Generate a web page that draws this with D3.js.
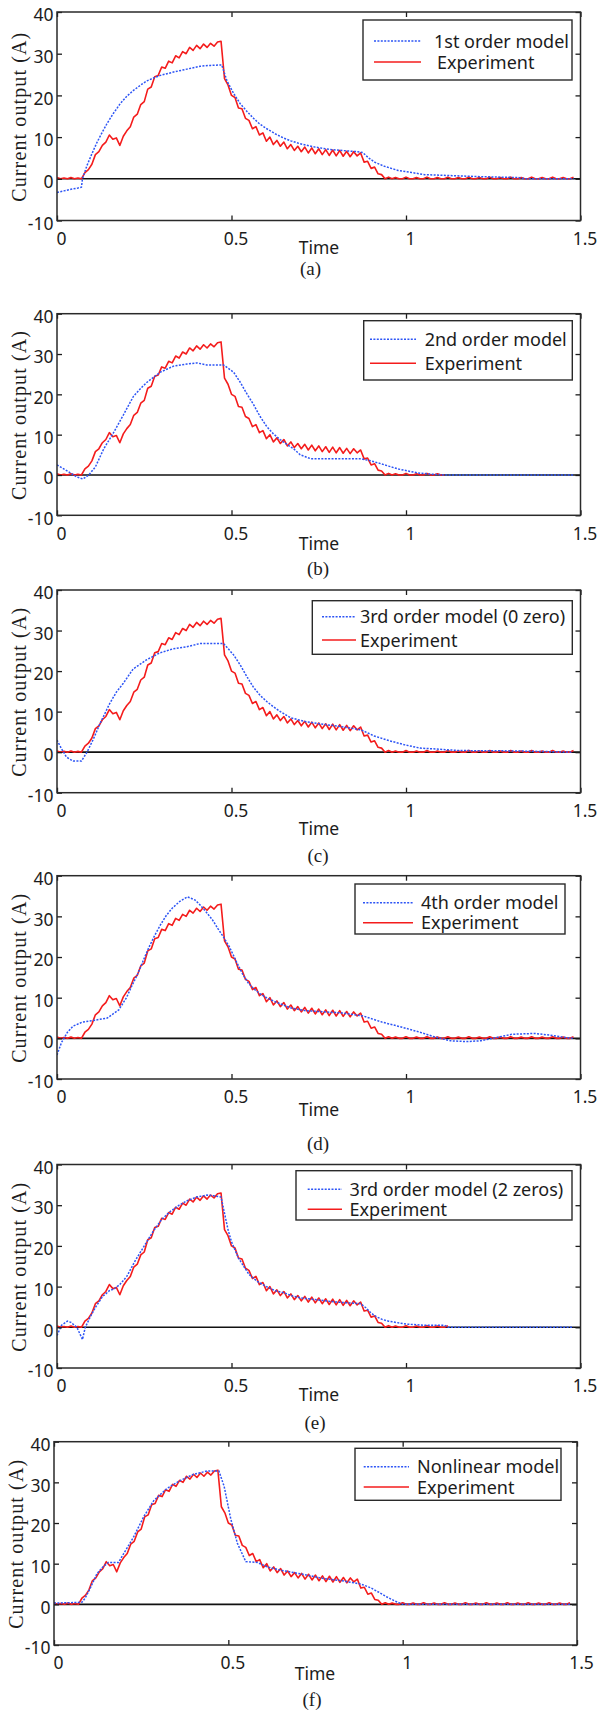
<!DOCTYPE html>
<html>
<head>
<meta charset="utf-8">
<script src="https://cdn.jsdelivr.net/npm/d3@7"></script>
<style>
  body { margin: 0; background: #fff; }
  svg { display: block; }
</style>
</head>
<body>
<svg id="chart"></svg>
<script>
width = 597;
height = 1711;

// measured current, one sample every 0.01 s (same run in all six panels)
const expStep = 0.01;
const experiment = [
  0.3, 0, 0.2, 0, 0.3, 0, 0.2, 0,
  1.5, 2.2, 3.5, 5.8, 6.5, 8.0, 8.8, 10.5, 9.5, 9.8, 8.0,
  10.2, 11.5, 12.5, 14.8, 15.5, 17.8, 18.5, 21.5, 22.0, 24.5, 24.8, 26.8, 26.5, 28.2, 27.8,
  29.5, 29.0, 30.5, 30.0, 31.5, 30.8, 32.0, 31.2, 32.3, 31.5, 32.5, 31.8, 32.8, 33.0,
  24.0, 22.5, 20.0, 19.5, 17.0, 16.8, 14.5, 14.0, 12.0, 12.5, 10.5, 11.0, 9.0, 10.0,
  8.2, 9.2, 7.8, 8.8, 7.2, 8.2, 6.8, 7.8, 6.5, 7.6, 6.2, 7.4, 6.0, 7.2, 5.8, 7.0,
  5.6, 6.9, 5.5, 6.8, 5.4, 6.6, 5.3, 6.5, 5.5, 6.2,
  4.0, 4.2, 2.5, 2.8, 1.2, 1.0,
  0, 0.4, 0, 0.3,
  0, 0, 0.4, 0, 0, 0.3, 0, 0, 0.4, 0, 0, 0.3, 0, 0, 0.4, 0, 0, 0.3,
  0, 0, 0.4, 0, 0, 0.3, 0, 0, 0.4, 0, 0, 0.3, 0, 0, 0.4, 0, 0, 0.3,
  0, 0, 0.4, 0, 0, 0.3, 0, 0, 0.4, 0, 0, 0.3, 0, 0, 0.4
];
// where the experiment trace stops in each panel
const expEnd = [1.48, 1.11, 1.48, 1.48, 1.12, 1.48];

// model outputs, [time, current]
const model1 = [[0,-3.3],[0.02,-2.9],[0.04,-2.5],[0.06,-2.2],[0.07,-2.0],[0.073,0],[0.086,3.2],[0.1,6],[0.115,8.8],[0.13,11.2],[0.143,13.2],[0.16,15.5],[0.181,18],[0.2,19.8],[0.219,21.2],[0.24,22.5],[0.258,23.5],[0.28,24.3],[0.296,24.8],[0.334,25.6],[0.372,26.3],[0.41,27],[0.44,27.2],[0.472,27.3],[0.487,23.5],[0.506,20.5],[0.525,18],[0.545,16.1],[0.563,14.5],[0.58,13.2],[0.601,12],[0.625,10.8],[0.649,9.8],[0.67,9.1],[0.697,8.4],[0.74,7.6],[0.786,7],[0.83,6.7],[0.862,6.5],[0.876,6.3],[0.893,5],[0.91,4],[0.938,3],[0.977,2],[1.016,1.5],[1.054,1.0],[1.121,0.8],[1.217,0.5],[1.322,0.3],[1.341,0],[1.48,0]];
const model2 = [[0,2.5],[0.029,1],[0.057,-0.5],[0.074,-1],[0.091,0],[0.11,2],[0.134,6.5],[0.162,10.5],[0.191,15],[0.219,19.5],[0.24,21.5],[0.258,23],[0.296,25.5],[0.334,27],[0.372,27.5],[0.4,27.8],[0.429,27.3],[0.477,27.3],[0.506,25.5],[0.525,23],[0.545,20],[0.563,17.5],[0.582,14.5],[0.601,12],[0.62,10.2],[0.639,8.8],[0.66,7.5],[0.678,6.5],[0.697,5],[0.728,4],[0.871,4],[0.9,3.5],[0.92,3],[0.95,2.2],[0.977,1.5],[1.005,1],[1.035,0.5],[1.073,0.2],[1.11,0],[1.48,0]];
const model3 = [[0,3],[0.012,1],[0.027,-1.2],[0.046,-2.2],[0.07,-2.2],[0.086,0],[0.103,3],[0.123,7],[0.151,12],[0.17,14.8],[0.19,17],[0.218,20.5],[0.257,22.8],[0.295,24.5],[0.333,25.5],[0.372,26],[0.41,26.8],[0.477,26.8],[0.506,24],[0.525,21.5],[0.545,18.5],[0.563,16],[0.582,14],[0.601,12.5],[0.62,11.2],[0.64,10],[0.669,8.5],[0.713,7.5],[0.77,6.8],[0.822,6.2],[0.871,5.5],[0.909,4],[0.953,2.8],[0.997,1.8],[1.04,1],[1.084,0.8],[1.15,0.4],[1.314,0.3],[1.478,0]];
const model4 = [[0,-4.1],[0.013,-1],[0.03,1.5],[0.046,3],[0.073,4],[0.111,4.5],[0.144,5],[0.177,7],[0.199,10],[0.215,13],[0.232,16],[0.248,19.3],[0.264,22.5],[0.28,25.3],[0.297,28],[0.313,30.2],[0.33,32],[0.352,33.7],[0.374,34.8],[0.396,34],[0.41,32.8],[0.428,31],[0.445,29.2],[0.461,27],[0.478,24.8],[0.494,22.5],[0.516,18.5],[0.532,15.8],[0.549,13.5],[0.565,12.1],[0.581,11],[0.6,10],[0.625,9],[0.669,7.5],[0.713,6.8],[0.77,6.5],[0.822,6.2],[0.877,5.5],[0.931,4],[0.986,2.8],[1.04,1.5],[1.084,0.3],[1.128,-0.6],[1.172,-0.8],[1.215,-0.6],[1.259,0.2],[1.303,1],[1.368,1.2],[1.412,0.8],[1.456,0.2],[1.478,0]];
const model5 = [[0,-2],[0.013,0.5],[0.03,1.5],[0.04,1.2],[0.057,0],[0.065,-1.5],[0.073,-3],[0.081,0],[0.095,2.5],[0.111,5],[0.13,7.5],[0.15,9],[0.165,9.5],[0.18,10.5],[0.2,12.5],[0.225,16.5],[0.25,20],[0.275,23.5],[0.3,26.5],[0.325,28.5],[0.35,30],[0.375,31.2],[0.4,32],[0.43,32.5],[0.45,32.3],[0.47,32],[0.475,30],[0.49,24],[0.5,21],[0.52,17],[0.535,15],[0.55,13],[0.575,11.2],[0.6,10],[0.625,9],[0.65,8.5],[0.675,7.7],[0.7,7.2],[0.75,6.7],[0.8,6.2],[0.87,5.8],[0.885,4.8],[0.9,3.5],[0.915,2.6],[0.93,2],[0.95,1.5],[1.0,0.8],[1.05,0.5],[1.11,0.5],[1.12,0],[1.48,0]];
const model6 = [[0,0.3],[0.04,0.4],[0.08,0.5],[0.089,1.5],[0.104,4],[0.123,7.5],[0.14,9.2],[0.156,10.3],[0.185,10.3],[0.2,12.5],[0.228,16.5],[0.257,21.5],[0.286,25.5],[0.324,28.5],[0.363,30.5],[0.401,32],[0.44,32.8],[0.473,32.8],[0.488,29],[0.507,21],[0.526,15],[0.55,10.5],[0.583,10.3],[0.612,9.2],[0.65,8.4],[0.708,7.5],[0.77,6.4],[0.826,5.8],[0.88,5],[0.91,4],[0.935,2.8],[0.955,1.8],[0.978,0.8],[1.0,0],[1.48,0]];

const models = [model1, model2, model3, model4, model5, model6];
const modelNames = ['1st order model', '2nd order model', '3rd order model (0 zero)',
  '4th order model', '3rd order model (2 zeros)', 'Nonlinear model'];
const captions = ['(a)', '(b)', '(c)', '(d)', '(e)', '(f)'];
const xTicks = [0, 0.5, 1, 1.5];
const yTicks = [-10, 0, 10, 20, 30, 40];
const xDomain = [0, 1.5];
const yDomain = [-10, 40];

// page layout of the six stacked panels
const panels = [
  { top: 12, bottom: 220.5, left: 57, right: 580.5, labX: 26,
    lg: { x: 363, y: 20, w: 209, h: 60, lx0: 374, lx1: 421, ly1: 41, ly2: 62, tx1: 434, tx2: 437 },
    timeX: 319, timeY: 254, capX: 310.5, capY: 275 },
  { top: 313.7, bottom: 515.3, left: 57, right: 580.5, labX: 26,
    lg: { x: 363.7, y: 320.7, w: 208.6, h: 59.3, lx0: 370, lx1: 416, ly1: 339.3, ly2: 363.3, tx1: 424.7, tx2: 424.7 },
    timeX: 319, timeY: 550, capX: 318, capY: 575 },
  { top: 590, bottom: 792.7, left: 57, right: 580.5, labX: 26,
    lg: { x: 312.3, y: 600.7, w: 260, h: 53.6, lx0: 322, lx1: 356, ly1: 616.7, ly2: 640, tx1: 360, tx2: 360 },
    timeX: 319, timeY: 835, capX: 318, capY: 862 },
  { top: 875.7, bottom: 1079, left: 57, right: 580.5, labX: 26,
    lg: { x: 355, y: 884, w: 210, h: 50, lx0: 363, lx1: 413, ly1: 902.7, ly2: 922.7, tx1: 421, tx2: 421 },
    timeX: 319, timeY: 1116, capX: 318, capY: 1150 },
  { top: 1164.5, bottom: 1368, left: 57, right: 580.5, labX: 26,
    lg: { x: 296, y: 1170.7, w: 276, h: 49.3, lx0: 307.7, lx1: 342, ly1: 1189.3, ly2: 1209.3, tx1: 349.6, tx2: 349.6 },
    timeX: 319, timeY: 1401, capX: 315, capY: 1429 },
  { top: 1441.7, bottom: 1645, left: 54, right: 577, labX: 23,
    lg: { x: 355, y: 1448.3, w: 206, h: 52, lx0: 363.7, lx1: 409, ly1: 1466.7, ly2: 1487, tx1: 417, tx2: 417 },
    timeX: 315, timeY: 1680, capX: 312, capY: 1706 }
];

const blue = '#2d55f5';
const red = '#f41c1c';
const ink = '#1c1c1c';
const sans = "'Noto Sans', 'Open Sans', sans-serif";
const serif = "'Liberation Serif', 'Times New Roman', serif";

const svg = d3.select('#chart').attr('width', width).attr('height', height)
  .attr('viewBox', [0, 0, width, height]);

const expPoints = experiment.map((v, i) => [i * expStep, v]);

panels.forEach((p, k) => {
  const x = d3.scaleLinear().domain(xDomain).range([p.left, p.right]);
  const y = d3.scaleLinear().domain(yDomain).range([p.bottom, p.top]);
  const g = svg.append('g');

  const clipId = 'clip' + k;
  g.append('clipPath').attr('id', clipId)
    .append('rect')
    .attr('x', p.left).attr('y', p.top)
    .attr('width', p.right - p.left).attr('height', p.bottom - p.top);

  // zero line
  g.append('line')
    .attr('x1', x(0)).attr('x2', x(1.5))
    .attr('y1', y(0)).attr('y2', y(0))
    .attr('stroke', '#111').attr('stroke-width', 1.6);

  const line = d3.line().x(d => x(d[0])).y(d => y(d[1]));
  const plot = g.append('g').attr('clip-path', `url(#${clipId})`).attr('fill', 'none');

  plot.append('path')
    .datum(expPoints.filter(d => d[0] <= expEnd[k] + 1e-9))
    .attr('stroke', red).attr('stroke-width', 1.6)
    .attr('stroke-linejoin', 'round')
    .attr('d', line);

  plot.append('path')
    .datum(models[k])
    .attr('stroke', blue).attr('stroke-width', 1.5)
    .attr('stroke-dasharray', '2,1.4')
    .attr('d', line);

  // axes with inward ticks on all four sides
  const tickFmt = d => String(d);
  const xAxis = g.append('g')
    .attr('transform', `translate(0,${p.bottom})`)
    .call(d3.axisBottom(x).tickValues(xTicks).tickSize(-5).tickPadding(12).tickFormat(tickFmt));
  xAxis.selectAll('text').attr('dx', 4);

  const yAxis = g.append('g')
    .attr('transform', `translate(${p.left},0)`)
    .call(d3.axisLeft(y).tickValues(yTicks).tickSize(-5).tickPadding(3.5).tickFormat(tickFmt));
  yAxis.selectAll('text').attr('dy', '0.5em');

  g.append('g')
    .attr('transform', `translate(0,${p.top})`)
    .call(d3.axisTop(x).tickValues(xTicks).tickSize(-5))
    .call(a => a.selectAll('text').remove());
  g.append('g')
    .attr('transform', `translate(${p.right},0)`)
    .call(d3.axisRight(y).tickValues(yTicks).tickSize(-5))
    .call(a => a.selectAll('text').remove());

  g.selectAll('.domain').remove();
  g.selectAll('.tick line').attr('stroke', ink).attr('stroke-width', 1.3);
  g.selectAll('.tick text')
    .attr('fill', ink).attr('font-family', sans).attr('font-size', 17.5);

  // frame
  g.append('rect')
    .attr('x', p.left).attr('y', p.top)
    .attr('width', p.right - p.left).attr('height', p.bottom - p.top)
    .attr('fill', 'none').attr('stroke', '#2a2a2a').attr('stroke-width', 1.5);

  // axis titles and caption
  g.append('text')
    .attr('transform', `translate(${p.labX},${(p.top + p.bottom) / 2 + 1}) rotate(-90)`)
    .attr('text-anchor', 'middle')
    .attr('font-family', serif).attr('font-size', 20)
    .attr('textLength', 169).attr('lengthAdjust', 'spacing')
    .attr('fill', ink)
    .text('Current output (A)');

  g.append('text')
    .attr('x', p.timeX).attr('y', p.timeY)
    .attr('text-anchor', 'middle')
    .attr('font-family', sans).attr('font-size', 17.5)
    .attr('fill', ink)
    .text('Time');

  g.append('text')
    .attr('x', p.capX).attr('y', p.capY)
    .attr('text-anchor', 'middle')
    .attr('font-family', serif).attr('font-size', 19)
    .attr('fill', ink)
    .text(captions[k]);

  // legend
  const lg = p.lg;
  const leg = g.append('g');
  leg.append('rect')
    .attr('x', lg.x).attr('y', lg.y).attr('width', lg.w).attr('height', lg.h)
    .attr('fill', '#fff').attr('stroke', '#2a2a2a').attr('stroke-width', 1.4);
  leg.append('line')
    .attr('x1', lg.lx0).attr('x2', lg.lx1).attr('y1', lg.ly1).attr('y2', lg.ly1)
    .attr('stroke', blue).attr('stroke-width', 1.5).attr('stroke-dasharray', '2,1.4');
  leg.append('line')
    .attr('x1', lg.lx0).attr('x2', lg.lx1).attr('y1', lg.ly2).attr('y2', lg.ly2)
    .attr('stroke', red).attr('stroke-width', 1.6);
  leg.append('text')
    .attr('x', lg.tx1).attr('y', lg.ly1 + 6.5)
    .attr('font-family', sans).attr('font-size', 18).attr('fill', ink)
    .text(modelNames[k]);
  leg.append('text')
    .attr('x', lg.tx2).attr('y', lg.ly2 + 6.5)
    .attr('font-family', sans).attr('font-size', 18).attr('fill', ink)
    .text('Experiment');
});
</script>
</body>
</html>
